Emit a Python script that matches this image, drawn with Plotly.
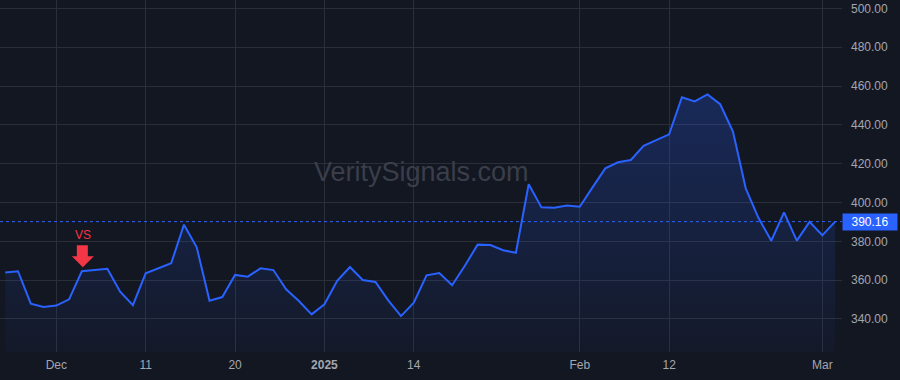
import plotly.graph_objects as go

dates = [
    "2024-11-25", "2024-11-26", "2024-11-27", "2024-11-29",
    "2024-12-02", "2024-12-03", "2024-12-04", "2024-12-05", "2024-12-06",
    "2024-12-09", "2024-12-10", "2024-12-11", "2024-12-12", "2024-12-13",
    "2024-12-16", "2024-12-17", "2024-12-18", "2024-12-19", "2024-12-20",
    "2024-12-23", "2024-12-24", "2024-12-26", "2024-12-27", "2024-12-30", "2024-12-31",
    "2025-01-02", "2025-01-03", "2025-01-06", "2025-01-07", "2025-01-08", "2025-01-10",
    "2025-01-13", "2025-01-14", "2025-01-15", "2025-01-16", "2025-01-17",
    "2025-01-21", "2025-01-22", "2025-01-23", "2025-01-24",
    "2025-01-27", "2025-01-28", "2025-01-29", "2025-01-30", "2025-01-31",
    "2025-02-03", "2025-02-04", "2025-02-05", "2025-02-06", "2025-02-07",
    "2025-02-10", "2025-02-11", "2025-02-12", "2025-02-13", "2025-02-14",
    "2025-02-18", "2025-02-19", "2025-02-20", "2025-02-21",
    "2025-02-24", "2025-02-25", "2025-02-26", "2025-02-27", "2025-02-28",
    "2025-03-03", "2025-03-04",
]

prices = [
    364.0, 364.6, 347.9, 346.2,
    346.9, 350.1, 364.6, 365.2, 365.9,
    354.1, 347.1, 363.5, 366.1, 368.7,
    388.6, 376.9, 349.4, 351.3, 362.7,
    361.8, 366.1, 365.2, 355.3, 349.3, 342.4,
    347.6, 359.7, 366.8, 360.1, 359.1, 349.6,
    341.5, 348.4, 362.5, 363.7, 357.4,
    367.4, 378.3, 378.1, 375.4,
    374.1, 409.4, 397.5, 397.3, 398.5,
    397.8, 407.8, 417.6, 420.7, 421.9,
    429.2, 432.2, 435.1, 454.2, 452.1,
    455.7, 450.6, 436.5, 407.3,
    392.0, 380.3, 394.9, 380.4, 390.0,
    383.1, 390.16,
]

tick_dates = ["2024-12-02", "2024-12-11", "2024-12-20", "2025-01-02",
              "2025-01-14", "2025-02-03", "2025-02-12", "2025-03-03"]
tick_labels = ["Dec", "11", "20", "<b>2025</b>", "14", "Feb", "12", "Mar"]

y_ticks = [340, 360, 380, 400, 420, 440, 460, 480, 500]

signal_date = "2024-12-04"
signal_label = "VS"
last_price = prices[-1]
watermark = "VeritySignals.com"

BG = "#131722"
GRID = "#2a2e39"
BLUE = "#2962ff"
RED = "#f23645"
TEXT = "#a3a6af"
FONT = "Liberation Sans, Arial, sans-serif"

fig = go.Figure()
fig.add_trace(go.Scatter(
    x=dates, y=prices, mode="lines",
    line=dict(color=BLUE, width=2),
    fill="tozeroy",
    fillgradient=dict(
        type="vertical", start=323, stop=456,
        colorscale=[[0, "rgba(41,98,255,0.03)"], [1, "rgba(41,98,255,0.25)"]],
    ),
    hoverinfo="skip",
))

signal_price = prices[dates.index(signal_date)]

# arrow marker (pixel-sized shape anchored at the signal point)
fig.add_shape(
    type="path", xref="x", yref="y",
    xsizemode="pixel", ysizemode="pixel",
    xanchor=signal_date, yanchor=signal_price,
    path="M 1,4 L 12,15 L 6,15 L 6,26 L -5,26 L -5,15 L -10,15 Z",
    fillcolor=RED, line=dict(width=0),
)
fig.add_annotation(
    x=signal_date, y=signal_price, xref="x", yref="y",
    text=signal_label, showarrow=False, yshift=36, xshift=1,
    font=dict(color=RED, size=12, family=FONT),
)

# watermark
fig.add_annotation(
    x=0.5, y=0.51, xref="paper", yref="paper",
    text=watermark, showarrow=False,
    font=dict(color="#3a3e4a", size=27, family=FONT),
)

# last price line and label
fig.add_shape(
    type="line", xref="paper", yref="y", x0=0, x1=1,
    y0=last_price, y1=last_price,
    line=dict(color=BLUE, width=1, dash="dot"),
)
fig.add_annotation(
    x=1, y=last_price, xref="paper", yref="y",
    xanchor="left", yanchor="middle",
    text=f"{last_price:.2f}", showarrow=False,
    bgcolor=BLUE, font=dict(color="#ffffff", size=12, family=FONT),
    width=50, height=12, borderpad=2, align="center",
)

fig.update_layout(
    width=900, height=380,
    margin=dict(l=0, r=58, t=0, b=28),
    paper_bgcolor=BG, plot_bgcolor=BG,
    showlegend=False,
    font=dict(family=FONT, color=TEXT, size=12),
    xaxis=dict(
        type="category",
        range=[-0.41, 65.54],
        tickmode="array", tickvals=tick_dates, ticktext=tick_labels,
        showgrid=True, gridcolor=GRID, gridwidth=1,
        zeroline=False, showline=False, ticks="",
        ticklabelstandoff=4,
        tickfont=dict(color=TEXT, size=12),
    ),
    yaxis=dict(
        side="right",
        range=[323, 504.3],
        tickmode="array", tickvals=y_ticks,
        tickformat=".2f",
        showgrid=True, gridcolor=GRID, gridwidth=1,
        zeroline=False, showline=False, ticks="",
        ticklabelstandoff=8,
        tickfont=dict(color=TEXT, size=12),
    ),
)

fig.write_html("out.html")
